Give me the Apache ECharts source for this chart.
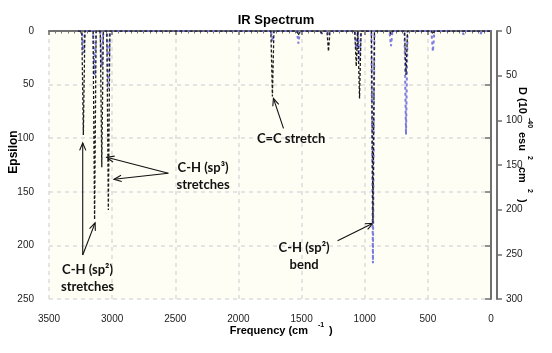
<!DOCTYPE html>
<html>
<head>
<meta charset="utf-8">
<script src="https://cdn.jsdelivr.net/npm/echarts@6/dist/echarts.min.js"></script>
<style>
  html, body { margin: 0; padding: 0; background: #fff; }
  #chart { width: 552px; height: 353px; }
</style>
</head>
<body>
<div id="chart"></div>
<script>
// Fréquences des pics (cm-1)
const peakFreq = [3228, 3139, 3082, 3030, 1731, 1525, 1340, 1287, 1067, 1041, 935, 792, 673, 460, 217, 84];
// Epsilon de chaque pic (axe de gauche)
const peakEps = [97, 176, 127, 167, 61, 4, 2, 19, 33, 63, 179, 3, 41, 3, 1, 0.5];
// D de chaque pic (axe de droite, 10^-40 esu^2 cm^2)
const peakD = [25, 50, 40, 65, 12, 14, 3, 4, 20, 34, 260, 17, 116, 23, 4, 4];
// bornes du spectre tracé
const specStart = 3270;
const specEnd = 0;
const peakHalfWidth = 12;

// annotations : [fréquence, epsilon] en coordonnées de données
const annoTexts = [
  { lines: ['C-H (sp²)', 'stretches'], at: [3195, 223] },
  { lines: ['C-H (sp³)', 'stretches'], at: [2280, 128] },
  { lines: ['C=C stretch'], at: [1583, 100.7] },
  { lines: ['C-H (sp²)', 'bend'], at: [1480, 202.4] }
];
const annoArrows = [
  [[3233, 209], [3233, 104.5]],
  [[3233, 209], [3135, 179]],
  [[2555, 132.7], [3043, 117.8]],
  [[2555, 132.7], [2985, 138.3]],
  [[1643, 90.8], [1723, 62.8]],
  [[1215, 195.6], [935, 179.4]]
];

// construit la ligne du spectre à partir des pics (ligne de base 0 entre les pics)
function buildSpectrum(values) {
  const pts = [[specStart, 0]];
  peakFreq.forEach((f, i) => {
    pts.push([f + peakHalfWidth, 0], [f, values[i]], [f - peakHalfWidth, 0]);
  });
  pts.push([specEnd, 0]);
  return pts;
}

const chart = echarts.init(document.getElementById('chart'));

const axisColor = '#707070';
const gridLine = { show: true, lineStyle: { color: '#dcdcdc', type: [4, 4], width: 1.5 } };
const tickLabel = { fontFamily: 'Liberation Sans', fontSize: 10, color: '#222', formatter: (v) => String(v) };

const option = {
  animation: false,
  backgroundColor: '#fff',
  title: {
    text: 'IR Spectrum',
    left: 'center',
    top: 9,
    textStyle: { fontFamily: 'Liberation Sans', fontSize: 13, fontWeight: 'bold', color: '#000' }
  },
  grid: {
    left: 49, right: 61, top: 31, bottom: 54,
    show: true, backgroundColor: '#fefef5', borderWidth: 0
  },
  xAxis: {
    type: 'value',
    inverse: true,
    min: 0, max: 3500, interval: 500,
    offset: 7,
    axisLine: { show: true, lineStyle: { color: axisColor, width: 2 } },
    axisTick: { show: true, length: 4, lineStyle: { color: axisColor, width: 1.5 } },
    minorTick: { show: true, splitNumber: 10, length: 2.5, lineStyle: { color: axisColor, width: 1 } },
    axisLabel: Object.assign({ margin: 8 }, tickLabel),
    splitLine: gridLine
  },
  yAxis: [
    {
      type: 'value',
      position: 'left',
      inverse: true,
      min: 0, max: 250, interval: 50,
      offset: 5,
      axisLine: { show: true, lineStyle: { color: axisColor, width: 2 } },
      axisTick: { show: true, length: 6, lineStyle: { color: axisColor, width: 1.5 } },
      axisLabel: Object.assign({ margin: 10 }, tickLabel),
      splitLine: gridLine
    },
    {
      type: 'value',
      position: 'right',
      inverse: true,
      min: 0, max: 300, interval: 50,
      offset: 6,
      axisLine: { show: true, lineStyle: { color: axisColor, width: 2 } },
      axisTick: { show: true, length: 5, lineStyle: { color: axisColor, width: 1.5 } },
      axisLabel: Object.assign({ margin: 9 }, tickLabel),
      splitLine: { show: false }
    }
  ],
  series: [
    {
      name: 'D',
      type: 'line',
      yAxisIndex: 1,
      showSymbol: false,
      data: buildSpectrum(peakD),
      lineStyle: { color: '#7a7ae0', width: 2, type: [3, 3] },
      z: 2
    },
    {
      name: 'Epsilon',
      type: 'line',
      yAxisIndex: 0,
      showSymbol: false,
      data: buildSpectrum(peakEps),
      lineStyle: { color: '#1a1a1a', width: 1.3, type: [3, 2] },
      z: 3
    }
  ]
};
chart.setOption(option);

// titres des axes et annotations, placés après le calcul des axes
const annoFont = 'bold 13px Lato';
const titleFont = 'bold 11px "Liberation Sans"';
const supFont = 'bold 7px "Liberation Sans"';
const graphics = [];

function toPx(p) {
  return chart.convertToPixel({ xAxisIndex: 0, yAxisIndex: 0 }, p);
}

annoTexts.forEach(({ lines, at }) => {
  const [cx, cy] = toPx(at);
  const lh = 17;
  lines.forEach((t, k) => {
    graphics.push({
      type: 'text', silent: true,
      style: {
        text: t, x: cx, y: cy + k * lh,
        textAlign: 'center', textVerticalAlign: 'middle',
        font: annoFont, fill: '#111'
      }
    });
  });
});

annoArrows.forEach(([from, to]) => {
  const [x1, y1] = toPx(from);
  const [x2, y2] = toPx(to);
  const a = Math.atan2(y2 - y1, x2 - x1);
  const len = 8, spread = 0.4;
  graphics.push({
    type: 'line', silent: true,
    shape: { x1, y1, x2, y2 },
    style: { stroke: '#111', lineWidth: 1.1 }
  });
  graphics.push({
    type: 'polyline', silent: true,
    shape: {
      points: [
        [x2 - len * Math.cos(a - spread), y2 - len * Math.sin(a - spread)],
        [x2, y2],
        [x2 - len * Math.cos(a + spread), y2 - len * Math.sin(a + spread)]
      ]
    },
    style: { stroke: '#111', lineWidth: 1.1, fill: null }
  });
});

// titre de l'axe x : Frequency (cm^-1)
graphics.push(
  { type: 'text', silent: true, style: { text: 'Frequency (cm', x: 308, y: 331, textAlign: 'right', textVerticalAlign: 'middle', font: titleFont, fill: '#000' } },
  { type: 'text', silent: true, style: { text: '-1', x: 318, y: 325, textAlign: 'left', textVerticalAlign: 'middle', font: supFont, fill: '#000' } },
  { type: 'text', silent: true, style: { text: ')', x: 329, y: 331, textAlign: 'left', textVerticalAlign: 'middle', font: titleFont, fill: '#000' } }
);

// titre de l'axe gauche
graphics.push({
  type: 'text', silent: true, rotation: Math.PI / 2, x: 14, y: 152,
  style: { text: 'Epsilon', x: 0, y: 0, textAlign: 'center', textVerticalAlign: 'middle', font: 'bold 12px "Liberation Sans"', fill: '#000' }
});

// titre de l'axe droit : D (10^-40 esu^2 cm^2), lu de haut en bas
const rightParts = [
  ['D (10', 0, 0, titleFont],
  ['-40', 31, -8, supFont],
  ['esu', 45, 0, titleFont],
  ['2', 69, -8, supFont],
  ['cm', 80, 0, titleFont],
  ['2', 102, -8, supFont],
  [')', 112, 0, titleFont]
];
graphics.push({
  type: 'group', silent: true, rotation: -Math.PI / 2, x: 522, y: 87,
  children: rightParts.map(([t, dx, dy, f]) => ({
    type: 'text',
    style: { text: t, x: dx, y: dy, textAlign: 'left', textVerticalAlign: 'middle', font: f, fill: '#000' }
  }))
});

chart.setOption({ graphic: graphics });
</script>
</body>
</html>
